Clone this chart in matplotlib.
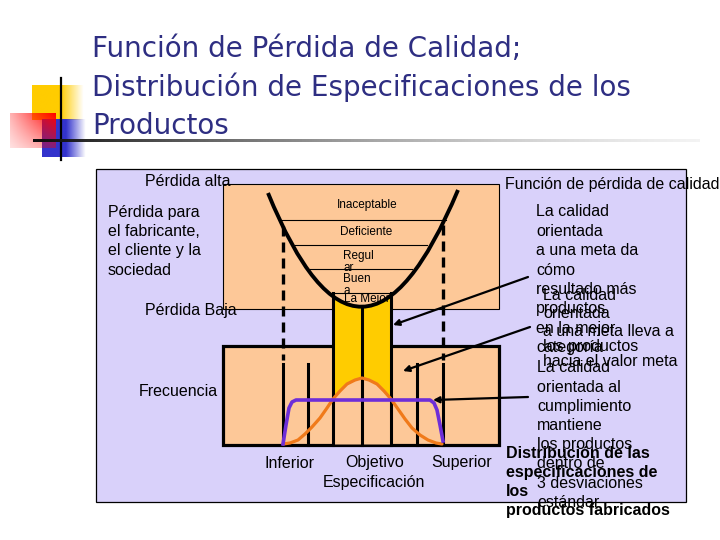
import numpy as np
import matplotlib
matplotlib.use("Agg")
import matplotlib.pyplot as plt
from matplotlib.patches import Rectangle, PathPatch
from matplotlib.path import Path

# ---- datos (coordenadas en pixeles de la diapositiva) ----
titulo = ["Función de Pérdida de Calidad;",
          "Distribución de Especificaciones de los",
          "Productos"]

# funcion de perdida (parabola): extremo izq, control, extremo der
perdida_pts = [(268, 193), (361, 422), (458, 190)]

# niveles de perdida (linea horizontal: y, x izq, x der)
niveles_y = [220, 245, 269, 293]
niveles_x0 = [282, 295, 310, 333]
niveles_x1 = [446, 427, 412, 391]
niveles_txt = ["Inaceptable", "Deficiente", "Regul\nar", "Buen\na", "La Mejor"]

# distribucion normal (naranja)
normal_x = [283, 290, 298, 305, 312, 320, 327, 333, 340, 347, 355, 362,
            369, 377, 384, 391, 398, 405, 412, 420, 428, 436, 442]
normal_y = [444, 443, 440, 434, 427, 418, 408, 399, 391, 384, 380, 378,
            380, 384, 391, 399, 409, 419, 428, 435, 440, 443, 444]

# distribucion uniforme (morada)
unif_x = [283, 286, 289, 292, 296, 300, 430, 434, 437, 440, 443]
unif_y = [444, 425, 408, 402, 400, 400, 400, 403, 410, 425, 441]

lim_x = [283, 308, 417, 443]          # lineas verticales cortas
espec_x = [333, 362, 391]             # limites de la zona amarilla

izq_txt = ["Pérdida para", "el fabricante,", "el cliente y la", "sociedad"]
bloque1 = ["La calidad", "orientada", "a una meta da", "cómo", "resultado más",
           "productos", "en la mejor", "categoría"]
bloque2 = ["La calidad", "orientada", "a una meta lleva a", "los productos",
           "hacia el valor meta"]
bloque3 = ["La calidad", "orientada al", "cumplimiento", "mantiene",
           "los productos", "dentro de", "3 desviaciones", "estándar"]
negrita = ["Distribución de las", "especificaciones de", "los",
           "productos fabricados"]
flechas = [((528, 277), (393, 325)), ((530, 327), (403, 371)),
           ((528, 397), (433, 400))]

# ---- colores ----
lavanda = "#D9D1FA"
durazno = "#FDC898"
amarillo = "#FFCC00"
naranja = "#F07A1A"
morado = "#6E2ED8"
azul_t = "#2E2E82"

plt.rcParams['font.family'] = ['Liberation Sans', 'DejaVu Sans']

fig = plt.figure(figsize=(7.2, 5.4), dpi=100)
ax = fig.add_axes([0, 0, 1, 1])
ax.set_xlim(0, 720)
ax.set_ylim(540, 0)
ax.axis("off")

# ---- decoracion de la plantilla ----
def degradado(x0, x1, y0, y1, rgb, fade_x=0.55, z=1):
    w, h = 60, 60
    xs = np.linspace(0, 1, w)
    a = np.ones((h, w)) * np.clip((1 - xs) / (1 - fade_x), 0, 1)[None, :]
    img = np.zeros((h, w, 4))
    img[..., :3] = rgb
    img[..., 3] = a
    ax.imshow(img, extent=(x0, x1, y1, y0), aspect="auto", zorder=z,
              interpolation="bilinear")

degradado(32, 84, 85, 120, (1.0, 0.8, 0.0), z=1)
# rojo: fuerte arriba a la derecha
w, h = 60, 60
xs = np.linspace(0, 1, w)[None, :]
ys = np.linspace(0, 1, h)[:, None]
rojo = np.zeros((h, w, 4))
rojo[..., 0] = 1.0
rojo[..., 3] = np.clip(0.3 + 0.7 * xs, 0, 1) * np.clip(1 - 0.6 * ys, 0, 1)
ax.imshow(rojo, extent=(10, 56, 148, 113), aspect="auto", zorder=2,
          interpolation="bilinear")
degradado(42, 86, 119, 157, (0.2, 0.2, 0.8), z=1.5)
ax.plot([61, 61], [78, 160], color="black", lw=1.6, zorder=3)
linea = np.zeros((4, 200, 4))
linea[..., :3] = np.linspace(0.05, 0.85, 200)[None, :, None]
linea[..., 3] = np.linspace(1, 0.3, 200)[None, :]
ax.imshow(linea, extent=(33, 700, 142.5, 139.5), aspect="auto", zorder=3,
          interpolation="bilinear")

for i, t in enumerate(titulo):
    ax.text(92, 57 + i * 38.5, t, fontsize=20, color=azul_t,
            family=["DejaVu Sans"], va="baseline", ha="left", zorder=4)

# ---- cuadro lavanda ----
ax.add_patch(Rectangle((96, 169), 590, 333, facecolor=lavanda,
                       edgecolor="black", lw=0.9, zorder=5))

# cuadro de la funcion de perdida
ax.add_patch(Rectangle((223, 184), 276, 125, facecolor=durazno,
                       edgecolor="black", lw=0.8, zorder=6))
for y, x0, x1 in zip(niveles_y, niveles_x0, niveles_x1):
    ax.plot([x0, x1], [y, y], color="black", lw=0.8, zorder=7)

# cuadro de frecuencia
ax.add_patch(Rectangle((223, 346), 276, 99, facecolor=durazno,
                       edgecolor="black", lw=2.3, zorder=8))

# zona amarilla bajo la parabola
p0, c, p1 = perdida_pts
ruta = Path([p0, c, p1, (p1[0], 470), (p0[0], 470), p0],
            [Path.MOVETO, Path.CURVE3, Path.CURVE3, Path.LINETO,
             Path.LINETO, Path.CLOSEPOLY])
clip = PathPatch(ruta, transform=ax.transData, facecolor="none",
                 edgecolor="none")
ax.add_patch(clip)
ama = Rectangle((espec_x[0], 285), espec_x[2] - espec_x[0], 120,
                facecolor=amarillo, edgecolor="none", zorder=9)
ax.add_patch(ama)
ama.set_clip_path(clip)
sel = [i for i, x in enumerate(normal_x) if espec_x[0] <= x <= espec_x[2]]
ax.fill_between([normal_x[i] for i in sel], [normal_y[i] for i in sel], 444,
                color=durazno, lw=0, zorder=9.5)

# textos de niveles
ax.text(337, 205, niveles_txt[0], fontsize=8.5, va="center", zorder=10)
ax.text(340, 232, niveles_txt[1], fontsize=8.5, va="center", zorder=10)
ax.text(343, 262, niveles_txt[2], fontsize=8.5, va="center", zorder=10,
        linespacing=0.95)
ax.text(343, 285, niveles_txt[3], fontsize=8.5, va="center", zorder=10,
        linespacing=0.95)
t = ax.text(344, 299, niveles_txt[4], fontsize=8.5, va="center", zorder=10)
t.set_clip_path(Rectangle((330, 285), 58, 25, transform=ax.transData))

# parabola
ax.add_patch(PathPatch(Path([p0, c, p1], [Path.MOVETO, Path.CURVE3,
                                         Path.CURVE3]),
                       facecolor="none", edgecolor="black", lw=2.8,
                       zorder=11))

# lineas verticales
for x in espec_x:
    ytop = 307 if x == espec_x[1] else 293
    ax.plot([x, x], [ytop, 445], color="black", lw=2.2, zorder=10)
for x in lim_x:
    ax.plot([x, x], [364, 445], color="black", lw=2.2, zorder=10)
for x, y0 in ((lim_x[0], 226), (lim_x[-1], 225)):
    ax.plot([x, x], [y0, 360], color="black", lw=2.4, ls=(0, (3, 1.8)),
            zorder=10)

# curvas de frecuencia
ax.plot(normal_x, normal_y, color=naranja, lw=2.3, zorder=12,
        solid_capstyle="round")
ax.plot(unif_x, unif_y, color=morado, lw=2.6, zorder=12,
        solid_joinstyle="round")

# flechas
for cola, punta in flechas:
    ax.annotate("", xy=punta, xytext=cola, zorder=13,
                arrowprops=dict(arrowstyle="-|>", color="black", lw=1.6,
                                mutation_scale=9, shrinkA=0, shrinkB=0))

# ---- textos ----
fs = 11.5
ax.text(145, 181, "Pérdida alta", fontsize=fs, va="center", zorder=14)
ax.text(145, 311, "Pérdida Baja", fontsize=fs, va="center", zorder=14)
ax.text(139, 392, "Frecuencia", fontsize=fs, va="center", zorder=14)
ax.text(505, 184, "Función de pérdida de calidad", fontsize=fs,
        va="center", zorder=14)
for i, s in enumerate(izq_txt):
    ax.text(108, 212 + i * 19.4, s, fontsize=fs, va="center", zorder=14)
for i, s in enumerate(bloque1):
    ax.text(536, 212 + i * 19.4, s, fontsize=fs, va="center", zorder=14)
for s, y in zip(bloque2, [296, 313, 332, 347, 361]):
    ax.text(543, y, s, fontsize=fs, va="center", zorder=14)
for i, s in enumerate(bloque3):
    ax.text(537, 368 + i * 19.2, s, fontsize=fs, va="center", zorder=14)
for i, s in enumerate(negrita):
    ax.text(506, 453 + i * 19.3, s, fontsize=fs, va="center",
            fontweight="bold", zorder=15)

ax.text(265, 464, "Inferior", fontsize=fs, va="center", zorder=14)
ax.text(345, 463, "Objetivo", fontsize=fs, va="center", zorder=14)
ax.text(431, 463, "Superior", fontsize=fs, va="center", zorder=14)
ax.text(323, 483, "Especificación", fontsize=fs, va="center", zorder=14)

fig.savefig("out.png", dpi=100, facecolor="white")
